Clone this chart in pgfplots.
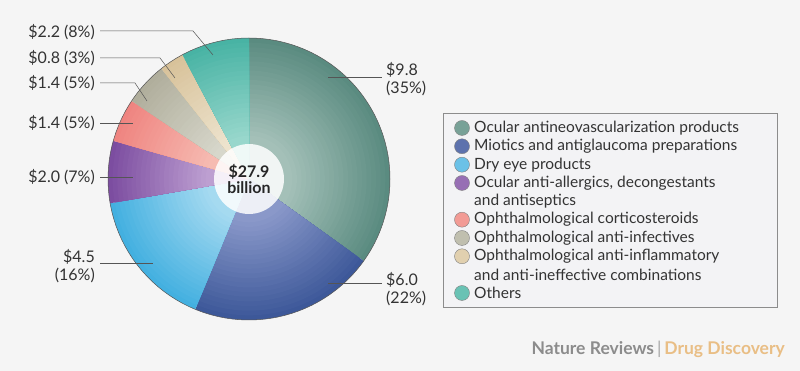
\documentclass[border=0pt]{standalone}
\usepackage{pgfplots}
\pgfplotsset{compat=1.18}
\usepackage{fontspec}
\setmainfont{Lato}
\definecolor{bg}{HTML}{F5F5F5}
\definecolor{legbg}{HTML}{F3F3F5}
\definecolor{cA}{HTML}{5A8B80}\definecolor{cAi}{HTML}{A6C2BA}
\definecolor{cB}{HTML}{3D5899}\definecolor{cBi}{HTML}{8C9ACB}
\definecolor{cC}{HTML}{43B0E0}\definecolor{cCi}{HTML}{A8DBF1}
\definecolor{cD}{HTML}{7C4DA0}\definecolor{cDi}{HTML}{BFA2D3}
\definecolor{cE}{HTML}{EF8480}\definecolor{cEi}{HTML}{F6BDB4}
\definecolor{cF}{HTML}{B0AE9C}\definecolor{cFi}{HTML}{D8D8CC}
\definecolor{cG}{HTML}{D8C29A}\definecolor{cGi}{HTML}{EEE4CF}
\definecolor{cH}{HTML}{48B3A4}\definecolor{cHi}{HTML}{9AD8CD}
\definecolor{txt}{HTML}{333333}
\definecolor{lead}{HTML}{555555}
\definecolor{nrgray}{HTML}{8C8C8C}
\definecolor{nrorange}{HTML}{E9BE85}
% pie centre and radius in picture pixels (axis units)
\def\cx{249}\def\cy{192}\def\R{141}
\newcommand{\pieslice}[3]{% start angle, end angle, colour name
  \foreach \k in {0,...,21}{%
    \pgfmathsetmacro{\rr}{\R*(1-\k*0.033)}%
    \pgfmathtruncatemacro{\mixp}{100-\k*4.6}%
    \edef\tmp{\noexpand\addplot[fill=#3!\mixp!#3i, draw=none, domain=#1:#2, samples=40, variable=\noexpand\t]
      ({\cx+\rr*cos(\noexpand\t)},{\cy+\rr*sin(\noexpand\t)}) -- (axis cs:\cx,\cy) -- cycle;}%
    \tmp
  }%
}
\begin{document}
\begin{tikzpicture}
\useasboundingbox (0,0) rectangle (800pt,371pt);
\fill[bg] (0,0) rectangle (800pt,371pt);
\begin{axis}[width=800pt, height=371pt, scale only axis,
  xmin=0, xmax=800, ymin=0, ymax=371, axis lines=none, ticks=none, clip=false]
% pie slices (values in $ billion, clockwise from top)
\gdef\piecum{0}
\foreach \v/\col in {9.8/cA, 6.0/cB, 4.5/cC, 2.0/cD, 1.4/cE, 1.4/cF, 0.8/cG, 2.2/cH}{%
  \pgfmathsetmacro\sa{90-\piecum/28.1*360}%
  \pgfmathsetmacro\sb{90-(\piecum+\v)/28.1*360}%
  \edef\doit{\noexpand\pieslice{\sa}{\sb}{\col}}\doit
  \pgfmathsetmacro\newcum{\piecum+\v}%
  \xdef\piecum{\newcum}%
}
\addplot[draw=lead, line width=0.5pt, domain=0:360, samples=120, variable=\t] ({\cx+\R*cos(t)},{\cy+\R*sin(t)});
\addplot[fill=white, fill opacity=0.85, draw=none, domain=0:360, samples=60, variable=\t] ({\cx+35*cos(t)},{\cy+35*sin(t)});
\node[font=\fontsize{16}{18}\selectfont\bfseries, text=black!85, align=center] at (axis cs:249,192) {\$27.9\\[-2pt]billion};
% leader lines
\addplot[lead, line width=0.5pt] coordinates {(328,294) (382,294)};
\addplot[lead, line width=0.5pt] coordinates {(328,88) (382,88)};
\addplot[lead, line width=0.5pt] coordinates {(100,108) (153,108)};
\addplot[lead, line width=0.5pt] coordinates {(100,194) (133,194)};
\addplot[lead, line width=0.5pt] coordinates {(100,248) (133,248)};
\addplot[lead, line width=0.5pt] coordinates {(100,288) (135,288) (147,270)};
\addplot[lead, line width=0.5pt] coordinates {(100,313) (160,313) (175,293)};
\addplot[lead, line width=0.5pt] coordinates {(100,340) (193,340) (213,316)};
% value labels
\begin{scope}[every node/.style={font=\fontsize{16}{18}\selectfont, text=txt, inner sep=0pt}]
\node[anchor=west] at (axis cs:386,301) {\$9.8};
\node[anchor=west] at (axis cs:386,283) {(35\%)};
\node[anchor=west] at (axis cs:386,91) {\$6.0};
\node[anchor=west] at (axis cs:386,73) {(22\%)};
\node[anchor=east] at (axis cs:95,114) {\$4.5};
\node[anchor=east] at (axis cs:95,96) {(16\%)};
\node[anchor=east] at (axis cs:95,194) {\$2.0 (7\%)};
\node[anchor=east] at (axis cs:95,248) {\$1.4 (5\%)};
\node[anchor=east] at (axis cs:95,288) {\$1.4 (5\%)};
\node[anchor=east] at (axis cs:95,313) {\$0.8 (3\%)};
\node[anchor=east] at (axis cs:95,339) {\$2.2 (8\%)};
\end{scope}
% legend box
\draw[draw=black!45, fill=legbg, line width=0.6pt] (axis cs:443,258) rectangle (axis cs:777,64);
\addplot[only marks, mark=*, mark size=7.5pt, draw=black!50, fill=cA!60!cAi] coordinates {(462,243)};
\addplot[only marks, mark=*, mark size=7.5pt, draw=black!50, fill=cB!60!cBi] coordinates {(462,224.7)};
\addplot[only marks, mark=*, mark size=7.5pt, draw=black!50, fill=cC!60!cCi] coordinates {(462,206.3)};
\addplot[only marks, mark=*, mark size=7.5pt, draw=black!50, fill=cD!60!cDi] coordinates {(462,188)};
\addplot[only marks, mark=*, mark size=7.5pt, draw=black!50, fill=cE!60!cEi] coordinates {(462,151.3)};
\addplot[only marks, mark=*, mark size=7.5pt, draw=black!50, fill=cF!60!cFi] coordinates {(462,133)};
\addplot[only marks, mark=*, mark size=7.5pt, draw=black!50, fill=cG!60!cGi] coordinates {(462,114.7)};
\addplot[only marks, mark=*, mark size=7.5pt, draw=black!50, fill=cH!60!cHi] coordinates {(462,78)};
\begin{scope}[every node/.style={font=\fontsize{15.5}{18}\selectfont, text=txt, inner sep=0pt, anchor=west}]
\node at (axis cs:474,243) {Ocular antineovascularization products};
\node at (axis cs:474,224.7) {Miotics and antiglaucoma preparations};
\node at (axis cs:474,206.3) {Dry eye products};
\node at (axis cs:474,188) {Ocular anti-allergics, decongestants};
\node at (axis cs:474,169.7) {and antiseptics};
\node at (axis cs:474,151.3) {Ophthalmological corticosteroids};
\node at (axis cs:474,133) {Ophthalmological anti-infectives};
\node at (axis cs:474,114.7) {Ophthalmological anti-inflammatory};
\node at (axis cs:474,96.3) {and anti-ineffective combinations};
\node at (axis cs:474,78) {Others};
\end{scope}
\node[anchor=east, inner sep=0pt, font=\fontsize{17.5}{19}\selectfont\bfseries] at (axis cs:785,22)
  {\textcolor{nrgray}{Nature Reviews}\,\textcolor{black!35}{\mdseries|}\,\textcolor{nrorange}{Drug Discovery}};
\end{axis}
\end{tikzpicture}
\end{document}
